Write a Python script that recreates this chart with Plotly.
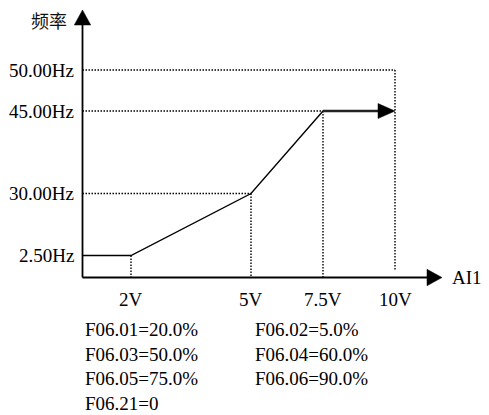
import numpy as np
import plotly.graph_objects as go

# ---------------- data ----------------
volts = [2, 5, 7.5, 10]
volt_labels = ["2V", "5V", "7.5V", "10V"]
freqs = [2.5, 30, 45, 50]
freq_labels = ["2.50Hz", "30.00Hz", "45.00Hz", "50.00Hz"]
curve_v = [0, 2, 5, 7.5]
curve_f = [2.5, 2.5, 30, 45]
hold_v = [7.5, 10]
hold_f = [45, 45]
param_col1 = ["F06.01=20.0%", "F06.03=50.0%", "F06.05=75.0%", "F06.21=0"]
param_col2 = ["F06.02=5.0%", "F06.04=60.0%", "F06.06=90.0%"]
y_title = "频率"
x_title = "AI1"

# ---------------- schematic (non-linear) scales ----------------
V_KNOTS = [0, 2, 5, 7.5, 10]
V_POS = [0, 48.5, 168.5, 240.5, 312.5]
F_KNOTS = [0, 2.5, 30, 45, 50]
F_POS = [0, 22, 84, 166.5, 207.5]


def sx(v):
    return float(np.interp(v, V_KNOTS, V_POS))


def sy(f):
    return float(np.interp(f, F_KNOTS, F_POS))


# layout constants (axis units == pixels)
X_TIP = 359.5
Y_TIP = 267.5
AX_ARROW_LEN = 15
AX_ARROW_HALF = 8.2
HOLD_ARROW_LEN = 17
HOLD_ARROW_HALF = 7.5
FONT = "Liberation Serif, 'Noto Sans CJK SC', serif"
DOT = "1.5px,1.5px"

fig = go.Figure()

guide_style = dict(color="black", width=1.4, dash=DOT)
# horizontal guides for 30, 45, 50 Hz
h_ends = {30: 5, 45: 7.5, 50: 10}
for f, v in h_ends.items():
    fig.add_trace(go.Scatter(x=[0, sx(v)], y=[sy(f), sy(f)], mode="lines",
                             line=guide_style, hoverinfo="skip"))
# vertical guides
v_tops = {2: 2.5, 5: 30, 7.5: 45, 10: 50}
for v, f in v_tops.items():
    bottom = 7.5 if v == 10 else 0
    fig.add_trace(go.Scatter(x=[sx(v), sx(v)], y=[sy(f), bottom], mode="lines",
                             line=guide_style, hoverinfo="skip"))

# main curve
fig.add_trace(go.Scatter(x=[sx(v) for v in curve_v], y=[sy(f) for f in curve_f],
                         mode="lines", line=dict(color="black", width=1.4),
                         hoverinfo="skip"))
# holding segment (thicker, ends in arrow)
fig.add_trace(go.Scatter(x=[sx(hold_v[0]), sx(hold_v[1]) - HOLD_ARROW_LEN],
                         y=[sy(hold_f[0]), sy(hold_f[1])],
                         mode="lines", line=dict(color="#222222", width=2.6),
                         hoverinfo="skip"))

shapes = []
# axes lines
shapes.append(dict(type="line", x0=0, y0=0, x1=X_TIP - AX_ARROW_LEN, y1=0,
                   line=dict(color="black", width=1.8)))
shapes.append(dict(type="line", x0=0, y0=0, x1=0, y1=Y_TIP - AX_ARROW_LEN,
                   line=dict(color="black", width=1.8)))


def tri(path):
    return dict(type="path", path=path, fillcolor="black",
                line=dict(color="black", width=0.5))


# x-axis arrow
shapes.append(tri(f"M {X_TIP},0 L {X_TIP-AX_ARROW_LEN},{AX_ARROW_HALF} "
                  f"L {X_TIP-AX_ARROW_LEN},{-AX_ARROW_HALF} Z"))
# y-axis arrow
shapes.append(tri(f"M 0,{Y_TIP} L {AX_ARROW_HALF},{Y_TIP-AX_ARROW_LEN} "
                  f"L {-AX_ARROW_HALF},{Y_TIP-AX_ARROW_LEN} Z"))
# holding arrow
hx, hy = sx(hold_v[1]), sy(hold_f[1])
shapes.append(tri(f"M {hx},{hy} L {hx-HOLD_ARROW_LEN},{hy+HOLD_ARROW_HALF} "
                  f"L {hx-HOLD_ARROW_LEN},{hy-HOLD_ARROW_HALF} Z"))

annotations = []
txt = dict(family=FONT, size=19, color="black")
# y tick labels
for f, lab in zip(freqs, freq_labels):
    annotations.append(dict(x=0, y=sy(f), text=lab, showarrow=False,
                            xanchor="right", yanchor="middle", xshift=-7,
                            font=txt))
# x tick labels
for v, lab in zip(volts, volt_labels):
    annotations.append(dict(x=sx(v), y=-21.5, text=lab, showarrow=False,
                            xanchor="center", yanchor="middle", font=txt))
# axis titles
annotations.append(dict(x=0, y=Y_TIP - 10, text=y_title, showarrow=False,
                        xanchor="right", yanchor="middle", xshift=-14,
                        font=dict(family="'Noto Sans CJK SC', sans-serif",
                                  size=18, color="#111111")))
annotations.append(dict(x=X_TIP, y=0, text=x_title, showarrow=False,
                        xanchor="left", yanchor="middle", xshift=8, font=txt))
# parameter text
ROW_Y = [-52, -76.5, -101, -125.5]
for i, t in enumerate(param_col1):
    annotations.append(dict(x=0, y=ROW_Y[i], text=t, showarrow=False,
                            xanchor="left", yanchor="middle", font=txt))
for i, t in enumerate(param_col2):
    annotations.append(dict(x=170.5, y=ROW_Y[i], text=t, showarrow=False,
                            xanchor="left", yanchor="middle", font=txt))

# the page body has an 8px margin, so the figure is sized to fit the window
fig.update_layout(
    width=481, height=407,
    margin=dict(l=0, r=0, t=0, b=0),
    paper_bgcolor="white", plot_bgcolor="white",
    showlegend=False,
    xaxis=dict(range=[-74.5, 406.5], visible=False, fixedrange=True),
    yaxis=dict(range=[-137.5, 269.5], visible=False, fixedrange=True),
    shapes=shapes, annotations=annotations,
)

fig.write_html("out.html")
